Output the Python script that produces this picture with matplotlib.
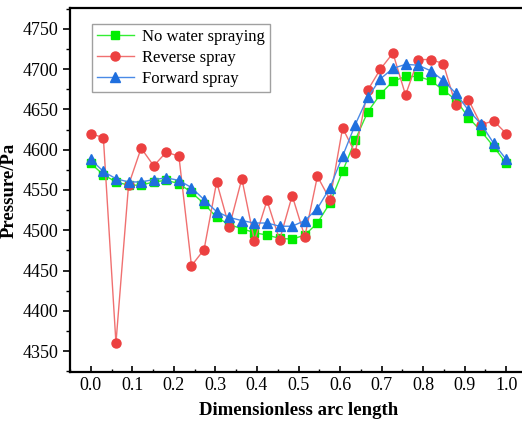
import matplotlib
matplotlib.use("Agg")
import matplotlib.pyplot as plt
from matplotlib.ticker import MultipleLocator

# dimensionless arc length, 34 stations
arc = [0.0, 0.0303, 0.0606, 0.0909, 0.1212, 0.1515, 0.1818, 0.2121, 0.2424,
       0.2727, 0.3030, 0.3333, 0.3636, 0.3939, 0.4242, 0.4545, 0.4848, 0.5152,
       0.5455, 0.5758, 0.6061, 0.6364, 0.6667, 0.6970, 0.7273, 0.7576, 0.7879,
       0.8182, 0.8485, 0.8788, 0.9091, 0.9394, 0.9697, 1.0]

no_spray = [4583, 4569, 4560, 4556, 4556, 4560, 4562, 4558, 4547, 4533,
            4516, 4507, 4502, 4497, 4494, 4490, 4489, 4494, 4509, 4534,
            4573, 4612, 4647, 4669, 4685, 4691, 4691, 4686, 4674, 4662,
            4640, 4623, 4604, 4583]

reverse = [4620, 4615, 4360, 4556, 4602, 4580, 4597, 4592, 4456, 4476,
           4560, 4504, 4564, 4487, 4537, 4488, 4543, 4492, 4567, 4538,
           4627, 4596, 4674, 4700, 4720, 4668, 4712, 4712, 4707, 4655,
           4662, 4631, 4636, 4620]

forward = [4588, 4573, 4564, 4560, 4560, 4563, 4565, 4562, 4553, 4538,
           4523, 4516, 4512, 4509, 4509, 4505, 4505, 4512, 4527, 4553,
           4592, 4631, 4665, 4688, 4701, 4706, 4705, 4698, 4686, 4670,
           4649, 4632, 4608, 4588]

plt.rcParams["font.family"] = ["Liberation Serif", "DejaVu Serif"]
plt.rcParams["font.size"] = 13

fig = plt.figure(figsize=(5.22, 4.23), dpi=100)
# right spine falls just outside the canvas, as in the original
ax = fig.add_axes([70 / 522, 51 / 423, 457 / 522, 364 / 423])

ax.plot(arc, no_spray, "-s", color="#33ee33", mfc="#00ee00", mec="#00ee00",
        lw=1.0, ms=5.5, label="No water spraying")
ax.plot(arc, reverse, "-o", color="#f07070", mfc="#ec4040", mec="#ec4040",
        lw=1.0, ms=6.5, label="Reverse spray")
ax.plot(arc, forward, "-^", color="#4a8ae6", mfc="#1f6fde", mec="#1f6fde",
        lw=1.0, ms=6.5, label="Forward spray")

ax.set_xlim(-0.05, 1.05)
ax.set_ylim(4324, 4776)
ax.xaxis.set_major_locator(MultipleLocator(0.1))
ax.xaxis.set_minor_locator(MultipleLocator(0.05))
ax.yaxis.set_major_locator(MultipleLocator(50))
ax.yaxis.set_minor_locator(MultipleLocator(25))
ax.xaxis.set_major_formatter(plt.FuncFormatter(lambda v, p: f"{v:.1f}"))

ax.tick_params(axis="x", which="major", direction="in", length=4, width=1.2)
ax.tick_params(axis="x", which="minor", direction="in", length=2, width=1.0)
ax.tick_params(axis="y", which="major", direction="out", length=5, width=1.2)
ax.tick_params(axis="y", which="minor", direction="out", length=3, width=1.0)
ax.tick_params(labelsize=13)

for s in ax.spines.values():
    s.set_linewidth(1.6)

ax.set_xlabel("Dimensionless arc length", fontweight="bold", fontsize=13.5,
              labelpad=6)
ax.set_ylabel("Pressure/Pa", fontweight="bold", fontsize=13.5, labelpad=3)

leg = ax.legend(loc="upper left", bbox_to_anchor=(0.048, 0.956),
                borderaxespad=0, fancybox=False, handlelength=2.2,
                labelspacing=0.3, borderpad=0.3, handletextpad=0.5,
                fontsize=12)
leg.get_frame().set_edgecolor("#888888")
leg.get_frame().set_linewidth(1.0)

fig.savefig("out.png", dpi=100)
